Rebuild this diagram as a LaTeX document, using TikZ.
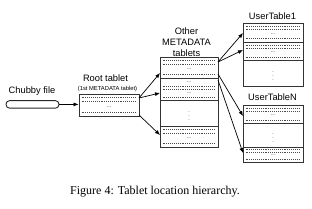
\documentclass[tikz,border=0pt]{standalone}
\usepackage{fontspec}
\setmainfont{Liberation Serif}
\newfontfamily\labfont{Liberation Sans}
\usetikzlibrary{arrows.meta}
\newcommand\rowseg[4]{%
  \draw[rowdots] ({#1+2.5},{#3+0.17*(#4-#3)}) -- ({#2-2.5},{#3+0.17*(#4-#3)});
  \draw[rowdots] ({#1+2.5},{#3+0.34*(#4-#3)}) -- ({#2-2.5},{#3+0.34*(#4-#3)});
  \node[ell] at ({(#1+#2)/2},{#3+0.58*(#4-#3)}) {...};
  \draw[rowdots] ({#1+2.5},{#3+0.83*(#4-#3)}) -- ({#2-2.5},{#3+0.83*(#4-#3)});
}
\newcommand\sepat[3]{\draw[sepline] (#1,#3) -- (#2,#3);}
\begin{document}
\begin{tikzpicture}[x=1pt,y=-1pt,
  tab/.style={draw=black!80,line width=0.8pt,inner sep=0,rectangle},
  sepline/.style={draw=black!80,line width=0.8pt},
  rowdots/.style={draw=black!70,line width=0.6pt,dash pattern=on 0.6pt off 1.3pt},
  ell/.style={inner sep=0,font=\labfont\fontsize{5}{5}\selectfont},
  lab/.style={inner sep=0,font=\labfont\fontsize{9.3}{11.3}\selectfont,align=center},
  small/.style={inner sep=0,font=\labfont\fontsize{5.8}{6}\selectfont},
  arr/.style={draw=black,line width=0.7pt,-{Latex[length=5pt,width=4pt]}}]
\useasboundingbox (0,0) rectangle (312,208);

% boxes
\node[draw=black!85,line width=0.9pt,rounded corners=3.6pt,minimum width=53pt,minimum height=7.5pt,inner sep=0] (chubby) at (32.5,104.4) {};
\node[tab,minimum width=60pt,minimum height=22pt] (root) at (109,105) {};
\node[tab,minimum width=58pt,minimum height=90pt] (other) at (189,102) {};
\node[tab,minimum width=60pt,minimum height=63pt] (ut1) at (273,54.5) {};
\node[tab,minimum width=60pt,minimum height=57pt] (utN) at (273,133.5) {};

% labels
\node[lab,anchor=base] (chubbylab) at (32,94) {Chubby file};
\node[lab,anchor=base] (rootlab) at (105.5,81.7) {Root tablet};
\node[small,anchor=base] (rootsub) at (107.5,90.3) {(1st METADATA tablet)};
\node[lab,anchor=south] (otherlab) at (186.5,57) {Other\\METADATA\\tablets};
\node[lab,anchor=base] (ut1lab) at (272.5,20) {UserTable1};
\node[lab,anchor=base] (utNlab) at (272.5,101) {UserTableN};
\node[anchor=base,inner sep=0,font=\fontsize{12}{14}\selectfont] (caption) at (155,194) {Figure 4: Tablet location hierarchy.};

% root interior
\rowseg{79}{139}{94}{116}
% other interior
\rowseg{160}{218}{57}{78}
\sepat{160}{218}{78}
\node[ell] at (189,82.2) {...};
\draw[rowdots] (162.5,86) -- (215.5,86);
\draw[rowdots] (162.5,89.3) -- (215.5,89.3);
\node[ell] at (189,93) {...};
\draw[rowdots] (162.5,97) -- (215.5,97);
\sepat{160}{218}{100}
\node[ell] at (189,113) {$\vdots$};
\sepat{160}{218}{126}
\rowseg{160}{218}{126}{147}
% usertable1 interior
\rowseg{243}{303}{23}{42}
\sepat{243}{303}{42}
\rowseg{243}{303}{42}{60}
\sepat{243}{303}{60}
\node[ell] at (273,73) {$\vdots$};
% usertableN interior
\rowseg{243}{303}{105}{123}
\sepat{243}{303}{123}
\node[ell] at (273,135) {$\vdots$};
\sepat{243}{303}{147}
\rowseg{243}{303}{147}{162}

% connector coordinates
\coordinate (r1) at (139,98);
\coordinate (r2) at (139,115);
\coordinate (m1) at (160,73);
\coordinate (m2) at (160,93);
\coordinate (m3) at (160,135);
\coordinate (o1) at (218,62);
\coordinate (o2) at (218,74);
\coordinate (o3) at (218,80);
\coordinate (u1) at (243,33);
\coordinate (u2) at (243,50);
\coordinate (n1) at (243,116);
\coordinate (n3) at (243,153);

\draw[arr] (chubby.east) -- (chubby.east -| root.west);
\draw[arr] (r1) -- (m1);
\draw[arr] (r1) -- (m2);
\draw[arr] (r2) -- (m3);
\draw[arr] (o1) -- (u1);
\draw[arr] (o1) -- (u2);
\draw[arr] (o2) -- (n1);
\draw[arr] (o3) -- (n3);
\end{tikzpicture}
\end{document}
